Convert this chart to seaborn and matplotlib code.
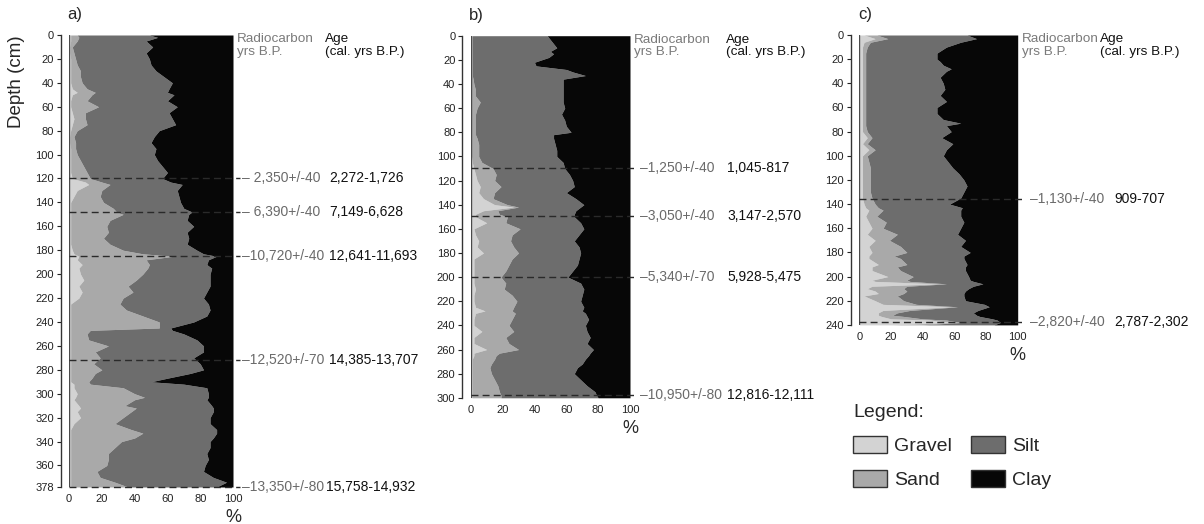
import numpy as np
import seaborn as sns
import matplotlib.pyplot as plt
from matplotlib.patches import Patch

# cumulative % at the top of each fraction: gravel, gravel+sand, gravel+sand+silt (clay fills to 100)
a_depth = [0, 2, 5, 10, 15, 20, 25, 30, 35, 40, 45, 48, 50, 55, 60, 65, 70, 75, 80, 85, 90, 95, 100,
           105, 110, 115, 120, 123, 125, 130, 135, 140, 145, 148, 150, 155, 160, 165, 170, 175, 180,
           183, 185, 188, 192, 195, 200, 205, 210, 215, 220, 225, 230, 235, 240, 245, 247, 250, 255,
           260, 265, 270, 275, 280, 283, 287, 290, 292, 295, 300, 303, 305, 310, 312, 315, 320, 325,
           330, 333, 337, 340, 345, 350, 355, 360, 365, 370, 374, 378]
a_gravel = [1, 1, 1, 0.5, 0.5, 1, 1, 1, 1, 1, 2, 5, 2, 1, 1, 2, 3, 2, 1, 0.5, 0.5, 1, 1,
            1, 1, 1, 2, 10, 12, 5, 3, 1, 1, 1, 1, 1, 1, 1, 1, 1, 2,
            3, 6, 5, 8, 6, 7, 9, 6, 8, 6, 1, 1, 1, 1, 1, 1, 1, 1,
            1, 1, 1, 1, 1, 1, 1, 1, 3, 3, 5, 4, 3, 6, 7, 5, 7, 3,
            1, 1, 1, 1, 1, 1, 1, 1, 1, 1, 1, 1]
a_sand = [5, 6, 5, 2, 3, 4, 5, 7, 7, 8, 11, 16, 14, 11, 18, 10, 10, 11, 5, 3, 4, 4, 5,
          7, 9, 11, 13, 20, 25, 20, 19, 21, 27, 29, 33, 25, 23, 24, 21, 25, 33,
          45, 64, 47, 49, 48, 45, 41, 36, 39, 33, 31, 35, 45, 55, 55, 13, 11, 12,
          24, 16, 19, 15, 20, 16, 14, 12, 13, 33, 40, 46, 40, 34, 41, 38, 33, 28,
          38, 45, 40, 32, 28, 24, 24, 23, 17, 19, 28, 36]
a_silt = [49, 54, 47, 51, 47, 49, 50, 53, 58, 63, 61, 60, 64, 60, 66, 61, 63, 65, 55, 52, 50, 53, 52,
          54, 57, 60, 57, 62, 69, 66, 67, 68, 70, 75, 73, 72, 76, 72, 73, 72, 78,
          82, 90, 85, 84, 87, 86, 86, 86, 84, 82, 85, 86, 84, 76, 62, 63, 70, 78,
          82, 82, 76, 80, 82, 74, 60, 50, 70, 84, 85, 85, 84, 87, 88, 88, 86, 86,
          90, 90, 88, 86, 86, 84, 85, 83, 82, 88, 96, 90]
a_dates = [120, 148, 185, 272, 378]
a_c14 = ["\u2013 2,350+/-40", "\u2013 6,390+/-40", "\u201310,720+/-40", "\u201312,520+/-70", "\u201313,350+/-80"]
a_cal = ["2,272-1,726", "7,149-6,628", "12,641-11,693", "14,385-13,707", "15,758-14,932"]

b_depth = [0, 5, 10, 13, 15, 18, 22, 25, 28, 30, 33, 36, 40, 45, 50, 55, 60, 65, 70, 75, 80, 82, 85,
           90, 95, 100, 105, 110, 115, 120, 125, 130, 135, 140, 142, 145, 148, 150, 155, 160, 165,
           170, 175, 180, 185, 190, 195, 200, 205, 210, 215, 220, 225, 228, 230, 235, 240, 245, 250,
           255, 260, 263, 265, 268, 272, 275, 280, 285, 290, 295, 298, 300]
b_gravel = [0.5, 0.5, 0.5, 0.5, 0.5, 0.5, 0.5, 0.5, 0.5, 0.5, 0.5, 0.5, 0.5, 0.5, 0.5, 0.5, 0.5, 0.5, 0.5, 0.5, 0.5, 0.5, 0.5,
            0.5, 0.5, 0.5, 1, 2, 3, 4, 6, 5, 8, 15, 27, 8, 3, 3, 10, 2, 3,
            5, 4, 8, 2, 2, 2, 2, 2, 3, 2, 2, 3, 9, 3, 2, 2, 7, 2,
            2, 10, 2, 2, 1, 1, 1, 1, 1, 1, 1, 1, 1]
b_sand = [1, 1, 1, 1, 1, 1, 1, 1, 1, 1, 1, 1.5, 2, 3, 3, 6, 4, 3, 3, 3, 3, 3, 4,
          5, 5, 5, 7, 14, 16, 15, 19, 15, 14, 23, 30, 17, 18, 23, 22, 31, 26,
          25, 27, 30, 26, 24, 22, 19, 22, 21, 26, 29, 27, 26, 28, 26, 24, 27, 22,
          24, 30, 18, 16, 15, 13, 12, 13, 15, 17, 18, 19, 19]
b_silt = [48, 51, 54, 50, 52, 49, 40, 41, 60, 64, 72, 58, 58, 58, 58, 58, 59, 57, 59, 60, 63, 52, 52,
          53, 54, 54, 58, 59, 62, 64, 65, 60, 66, 71, 69, 66, 65, 65, 69, 71, 68,
          65, 68, 69, 68, 67, 64, 61, 69, 71, 70, 69, 71, 70, 72, 74, 72, 73, 75,
          73, 77, 75, 74, 72, 70, 67, 65, 69, 73, 78, 79, 80]
b_dates = [110, 149, 200, 298]
b_c14 = ["\u20131,250+/-40", "\u20133,050+/-40", "\u20135,340+/-70", "\u201310,950+/-80"]
b_cal = ["1,045-817", "3,147-2,570", "5,928-5,475", "12,816-12,111"]

c_depth = [0, 3, 6, 10, 15, 20, 22, 25, 28, 30, 35, 40, 45, 50, 55, 60, 65, 70, 73, 75, 80, 85, 90,
           95, 100, 105, 110, 115, 120, 125, 130, 135, 140, 143, 145, 150, 155, 160, 165, 170, 175,
           180, 183, 185, 190, 192, 195, 200, 203, 204, 206, 208, 210, 212, 214, 216, 220, 223, 225,
           228, 230, 232, 233, 235, 236, 238, 240]
c_gravel = [3, 10, 3, 2, 2, 2, 2, 2, 2, 2, 2, 2, 2, 2, 2, 2, 2, 2, 2, 2, 2, 5, 2,
            6, 2, 2, 2, 2, 2, 2, 2, 2, 3, 4, 6, 4, 6, 8, 5, 10, 6,
            8, 6, 6, 12, 8, 8, 18, 8, 10, 50, 8, 5, 10, 12, 3, 10, 15, 58,
            15, 12, 12, 14, 20, 45, 58, 20]
c_sand = [11, 18, 7, 5, 4, 4, 4, 4, 4, 4, 4, 4, 4, 4, 4, 4, 4, 4, 4, 4, 5, 8, 5,
          10, 5, 6, 7, 7, 7, 7, 7, 8, 10, 12, 15, 11, 17, 15, 24, 19, 26,
          30, 22, 26, 30, 24, 26, 34, 30, 32, 55, 30, 28, 30, 28, 24, 28, 36, 62,
          32, 24, 21, 28, 40, 55, 64, 40]
c_silt = [68, 74, 64, 55, 49, 49, 51, 53, 58, 55, 51, 53, 54, 51, 55, 49, 49, 53, 64, 55, 58, 52, 59,
          55, 53, 56, 59, 63, 66, 68, 66, 64, 57, 65, 64, 64, 66, 64, 62, 67, 64,
          70, 66, 66, 68, 67, 67, 69, 70, 72, 78, 72, 69, 67, 66, 66, 67, 79, 82,
          75, 72, 74, 76, 84, 87, 89, 85]
c_dates = [136, 238]
c_c14 = ["\u20131,130+/-40", "\u20132,820+/-40"]
c_cal = ["909-707", "2,787-2,302"]

fractions = ["Gravel", "Sand", "Silt", "Clay"]
colors = ["#d3d3d3", "#a9a9a9", "#6d6d6d", "#070707"]

sns.set_theme(style="ticks")
plt.rcParams["font.family"] = ["Liberation Sans", "DejaVu Sans"]

W, H = 1204, 524
fig = plt.figure(figsize=(W / 100, H / 100), dpi=100)


def px_axes(left, top, right, bottom):
    return fig.add_axes([left / W, 1 - bottom / H, (right - left) / W, (bottom - top) / H])


cores = [
    dict(tag="a)", box=(69, 35, 233, 487), depth=a_depth, g=a_gravel, s=a_sand, si=a_silt,
         dates=a_dates, c14=a_c14, cal=a_cal, lab_x=105.5, cal_x=[158.5, 158.5, 158.5, 158.5, 156.5],
         age_hdr=156, maxd=378, yt=list(range(0, 361, 20)) + [378]),
    dict(tag="b)", box=(470.7, 35.7, 630, 397.8), depth=b_depth, g=b_gravel, s=b_sand, si=b_silt,
         dates=b_dates, c14=b_c14, cal=b_cal, lab_x=106, cal_x=[161, 161, 161, 161],
         age_hdr=160, maxd=300, yt=list(range(0, 301, 20))),
    dict(tag="c)", box=(859.3, 35, 1017.7, 324.9), depth=c_depth, g=c_gravel, s=c_sand, si=c_silt,
         dates=c_dates, c14=c_c14, cal=c_cal, lab_x=108, cal_x=[161, 161],
         age_hdr=152, maxd=240, yt=list(range(0, 241, 20))),
]

for core in cores:
    ax = px_axes(*core["box"])
    d = np.array(core["depth"], dtype=float)
    g = np.array(core["g"], dtype=float)
    s = np.array(core["s"], dtype=float)
    si = np.array(core["si"], dtype=float)
    ax.fill_betweenx(d, 0, g, color=colors[0], lw=0)
    ax.fill_betweenx(d, g, s, color=colors[1], lw=0)
    ax.fill_betweenx(d, s, si, color=colors[2], lw=0)
    ax.fill_betweenx(d, si, 100, color=colors[3], lw=0)
    ax.axvline(0, color="#4a4a4a", lw=1)

    ax.set_xlim(0, 100)
    ax.set_ylim(core["maxd"], 0)
    ax.set_xticks(range(0, 101, 20))
    ax.set_yticks(core["yt"])
    ax.tick_params(axis="both", labelsize=8, length=3, width=0.8, pad=2, colors="#222222")
    ax.tick_params(axis="x", length=0, pad=5)
    sns.despine(ax=ax, bottom=True, offset={"left": 6})
    ax.spines["left"].set_color("#333333")
    ax.spines["left"].set_linewidth(1)

    for dd, lab, cal, cx in zip(core["dates"], core["c14"], core["cal"], core["cal_x"]):
        ax.plot([0, 104], [dd, dd], ls=(0, (5, 3)), color="#2a2a2a", lw=1, clip_on=False)
        ax.text(core["lab_x"], dd, lab, va="center", ha="left", fontsize=10, color="#6a6a6a")
        ax.text(cx, dd, cal, va="center", ha="left", fontsize=10, color="#111111")

    ax.text(102.5, -1.5, "Radiocarbon\nyrs B.P.", va="top", ha="left", fontsize=9.7,
            color="#7a7a7a", linespacing=1.05)
    ax.text(core["age_hdr"], -1.5, "Age\n(cal. yrs B.P.)", va="top", ha="left", fontsize=9.7,
            color="#111111", linespacing=1.05)
    ax.annotate(core["tag"], xy=(0, 1), xycoords="axes fraction", xytext=(-1, 9),
                textcoords="offset points", ha="left", va="bottom", fontsize=12)
    ax.annotate("%", xy=(1, 0), xycoords="axes fraction", xytext=(0, -16),
                textcoords="offset points", ha="center", va="top", fontsize=13)

fig.text(17 / W, 1 - 82 / H, "Depth (cm)", rotation=90, ha="center", va="center", fontsize=13.5)

handles = [Patch(facecolor=c, edgecolor="#333333", lw=1) for c in colors]
fig.legend(handles, fractions, ncol=2, loc="upper left", bbox_to_anchor=(853 / W, 1 - 404 / H),
           frameon=False, title="Legend:", alignment="left", fontsize=14, title_fontsize=14,
           handlelength=1.75, handleheight=1.0, handletextpad=0.35, columnspacing=1.0,
           labelspacing=0.75, borderpad=0, borderaxespad=0)

fig.savefig("out.png", dpi=100)
